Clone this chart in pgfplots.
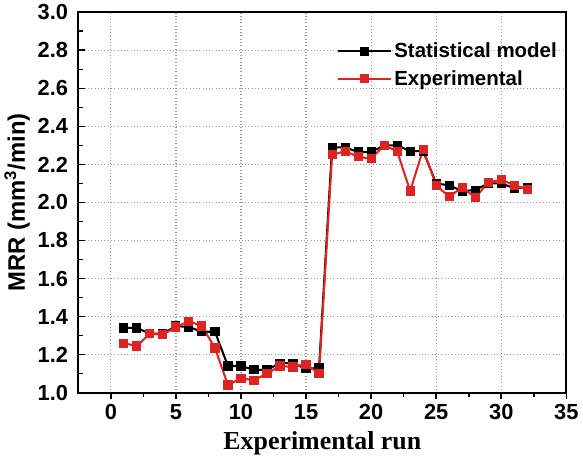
\documentclass[border=0pt]{standalone}
\usepackage{pgfplots}
\pgfplotsset{compat=1.18}
\usepackage{fontspec}
\setmainfont{Liberation Sans}
\newfontfamily\timesfont{Liberation Serif}
\definecolor{expred}{RGB}{222,35,35}

\begin{document}
\begin{tikzpicture}
\begin{axis}[
  scale only axis,
  width=358pt, height=279pt,
  xmin=-2.5, xmax=35,
  ymin=1.0, ymax=3.0,
  xtick={0,5,...,35},
  ytick={1.0,1.2,...,3.0},
  minor x tick num=1,
  minor y tick num=1,
  tick pos=left,
  xtick align=outside,
  ytick align=inside,
  major tick length=5pt,
  minor tick length=3.5pt,
  axis line style={line width=1.5pt},
  every tick/.style={black, line width=1.2pt},
  grid=major,
  major grid style={gray!80, dotted, line width=0.9pt},
  /pgf/number format/assume math mode=true,
  /pgf/number format/.cd, fixed, fixed zerofill, precision=1, /pgfplots/.cd,
  xticklabel style={/pgf/number format/precision=0, /pgf/number format/fixed zerofill=false},
  tick label style={font=\fontsize{16}{18}\selectfont\bfseries},
  yticklabel style={xshift=-4pt},
  xlabel={\timesfont\bfseries Experimental run},
  ylabel={\bfseries MRR (mm$^{\mathbf{3}}$/min)},
  xlabel style={font=\fontsize{19}{22}\selectfont, yshift=-2pt},
  ylabel style={font=\fontsize{17.5}{20}\selectfont, yshift=-1pt},
  legend style={draw=none, fill=none, at={(0.995,0.935)}, anchor=north east,
    font=\fontsize{15}{18}\selectfont\bfseries, row sep=4pt},
  legend cell align=left,
  legend image code/.code={%
    \draw[mark repeat=2, mark phase=2, line width=1.5pt]
      plot coordinates {(0cm,0cm) (0.68cm,0cm) (1.36cm,0cm)};},
]
\addplot[black, line width=1.5pt, mark=square*, mark size=2.6pt] coordinates {
 (1,1.34) (2,1.34) (3,1.31) (4,1.31) (5,1.35) (6,1.345) (7,1.32) (8,1.32)
 (9,1.14) (10,1.14) (11,1.12) (12,1.12) (13,1.155) (14,1.155) (15,1.125) (16,1.13)
 (17,2.29) (18,2.29) (19,2.265) (20,2.265) (21,2.30) (22,2.30) (23,2.27) (24,2.27)
 (25,2.10) (26,2.09) (27,2.06) (28,2.065) (29,2.10) (30,2.10) (31,2.075) (32,2.08)
};
\addlegendentry{Statistical model}
\addplot[expred, line width=1.5pt, mark=square*, mark size=2.6pt] coordinates {
 (1,1.26) (2,1.245) (3,1.31) (4,1.305) (5,1.345) (6,1.375) (7,1.35) (8,1.235)
 (9,1.04) (10,1.075) (11,1.065) (12,1.10) (13,1.14) (14,1.135) (15,1.15) (16,1.10)
 (17,2.25) (18,2.27) (19,2.24) (20,2.23) (21,2.30) (22,2.27) (23,2.06) (24,2.28)
 (25,2.09) (26,2.03) (27,2.08) (28,2.025) (29,2.105) (30,2.12) (31,2.09) (32,2.07)
};
\addlegendentry{Experimental}
\end{axis}
\end{tikzpicture}
\end{document}
